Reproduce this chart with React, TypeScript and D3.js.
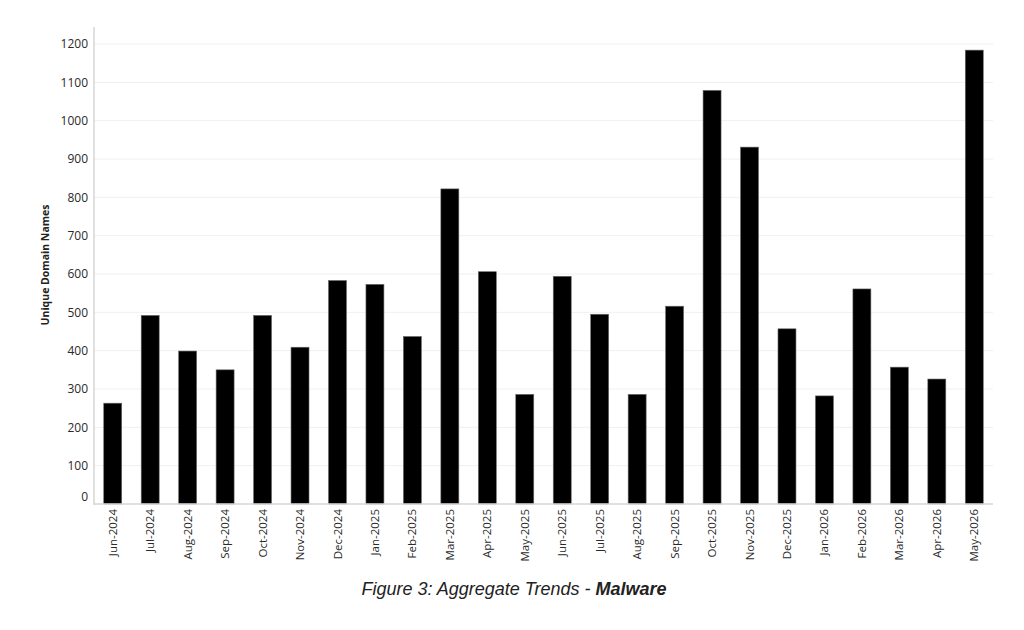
import React from "react";
import * as d3 from "d3";

const months = [
  "Jun-2024", "Jul-2024", "Aug-2024", "Sep-2024", "Oct-2024", "Nov-2024",
  "Dec-2024", "Jan-2025", "Feb-2025", "Mar-2025", "Apr-2025", "May-2025",
  "Jun-2025", "Jul-2025", "Aug-2025", "Sep-2025", "Oct-2025", "Nov-2025",
  "Dec-2025", "Jan-2026", "Feb-2026", "Mar-2026", "Apr-2026", "May-2026",
];
const domains = [
  263, 492, 399, 350, 492, 409, 583, 573, 437, 822, 606, 286,
  594, 495, 286, 516, 1079, 931, 457, 282, 561, 357, 326, 1184,
];
const yTicks = [0, 100, 200, 300, 400, 500, 600, 700, 800, 900, 1000, 1100, 1200];
const yTitle = "Unique Domain Names";
const captionPlain = "Figure 3: Aggregate Trends - ";
const captionBold = "Malware";

const W = 1024;
const H = 630;
const left = 94;
const right = 993;
const top = 27;
const bottom = 504;

export default function App() {
  const x = d3.scaleBand<string>().domain(months).range([left, right]).paddingInner(0.52).paddingOuter(0.26);
  const y = d3.scaleLinear().domain([0, 1200]).range([bottom, 44]);
  const font = "'Open Sans', 'Noto Sans', sans-serif";
  return (
    <svg width={W} height={H} style={{ position: "absolute", left: 0, top: 0, background: "#fff" }}>
      <rect x={0} y={0} width={W} height={H} fill="#fff" />
      {yTicks.map((t) => (
        t > 0 ? <line key={"g" + t} x1={left} x2={right} y1={y(t)} y2={y(t)} stroke="#f0f0f0" strokeWidth={1} /> : null
      ))}
      {months.map((m, i) => (
        <rect key={m} x={x(m)} y={y(domains[i])} width={x.bandwidth()} height={y(0) - y(domains[i])}
          fill="#000" stroke="#6a6a6a" strokeWidth={0.6} />
      ))}
      <line x1={left} x2={left} y1={top} y2={bottom + 1} stroke="#d6d6d6" strokeWidth={1.5} />
      <line x1={left} x2={right} y1={bottom} y2={bottom} stroke="#d6d6d6" strokeWidth={1.5} />
      {yTicks.map((t) => (
        <text key={"t" + t} x={88} y={t === 0 ? y(t) - 7 : y(t)} dy="0.35em" textAnchor="end"
          fontFamily={font} fontSize={12} fill="#2a2a2a">{t}</text>
      ))}
      {months.map((m) => (
        <text key={"l" + m} transform={`translate(${(x(m) as number) + x.bandwidth() / 2},${bottom + 5}) rotate(-90)`}
          dy="0.35em" textAnchor="end" fontFamily={font} fontSize={11.5} fill="#2a2a2a">{m}</text>
      ))}
      <text transform={`translate(45,265) rotate(-90)`} dy="0.35em" textAnchor="middle"
        fontFamily={font} fontSize={10.5} fontWeight="bold" fill="#222">{yTitle}</text>
      <text x={514} y={595} textAnchor="middle" fontFamily="'Liberation Sans', Arial, sans-serif"
        fontSize={18} fontStyle="italic" fill="#222">
        {captionPlain}<tspan fontWeight="bold">{captionBold}</tspan>
      </text>
    </svg>
  );
}
